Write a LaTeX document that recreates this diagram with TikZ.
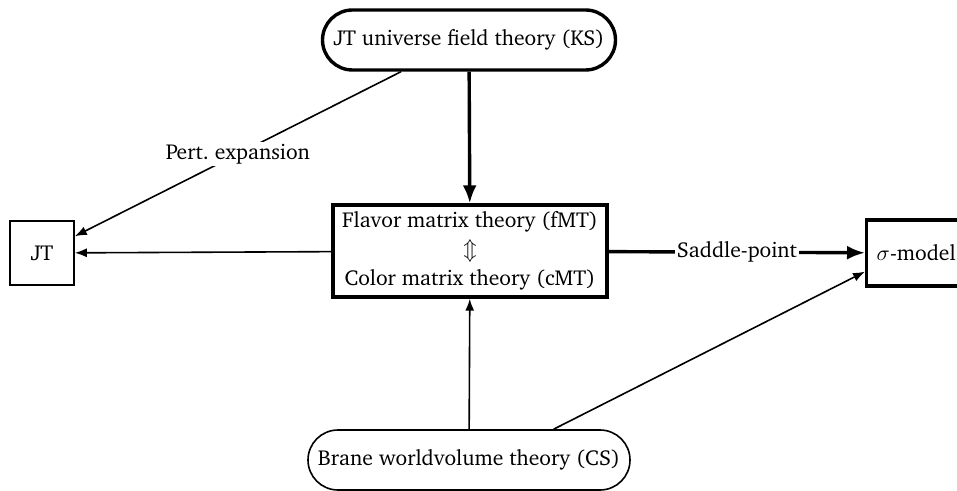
\documentclass[tikz,border=0pt]{standalone}
\usepackage[T1]{fontenc}
\usepackage{charter}
\usetikzlibrary{arrows.meta}

\tikzset{
  thinbox/.style={draw,line width=0.8pt,align=center,inner sep=3pt},
  thickbox/.style={draw,line width=1.7pt,align=center,inner sep=3pt},
  thinarr/.style={-{Latex[length=6pt,width=4.5pt]},line width=0.8pt},
  thickarr/.style={-{Latex[length=9pt,width=7pt]},line width=1.7pt},
  lab/.style={fill=white,inner sep=1pt,midway}
}

\begin{document}
\begin{tikzpicture}[x=0.5pt,y=-0.5pt,font=\fontsize{10.8}{13}\selectfont]
  \useasboundingbox (0,0) rectangle (957,491);
  % theories
  \node[thickbox,rounded corners=15pt,minimum width=146.5pt,minimum height=30pt] (ks) at (469,40) {JT universe field theory (KS)};
  \node[thickbox,minimum width=137pt,minimum height=46pt,font=\fontsize{10.8}{14.5}\selectfont] (mt) at (470,251)
    {Flavor matrix theory (fMT)\\$\Updownarrow$\\Color matrix theory (cMT)};
  \node[thinbox,minimum width=32pt,minimum height=32pt] (jt) at (42,253) {JT};
  \node[thickbox,anchor=west,minimum height=33pt,inner xsep=5pt] (sig) at (865,253) {$\sigma$-model};
  \node[thinbox,rounded corners=15pt,minimum width=161pt,minimum height=30pt] (cs) at (469,460) {Brane worldvolume theory (CS)};
  % maps
  \draw[thickarr] (ks) -- (mt);
  \draw[thinarr] (ks.205) -- node[lab] {Pert.\ expansion} (jt.27);
  \draw[thinarr] (mt) -- (jt);
  \draw[thickarr] (mt) -- node[lab] {Saddle-point} (sig);
  \draw[thinarr] (cs) -- (mt);
  \draw[thinarr] (cs.20) -- (sig.200);
\end{tikzpicture}
\end{document}
